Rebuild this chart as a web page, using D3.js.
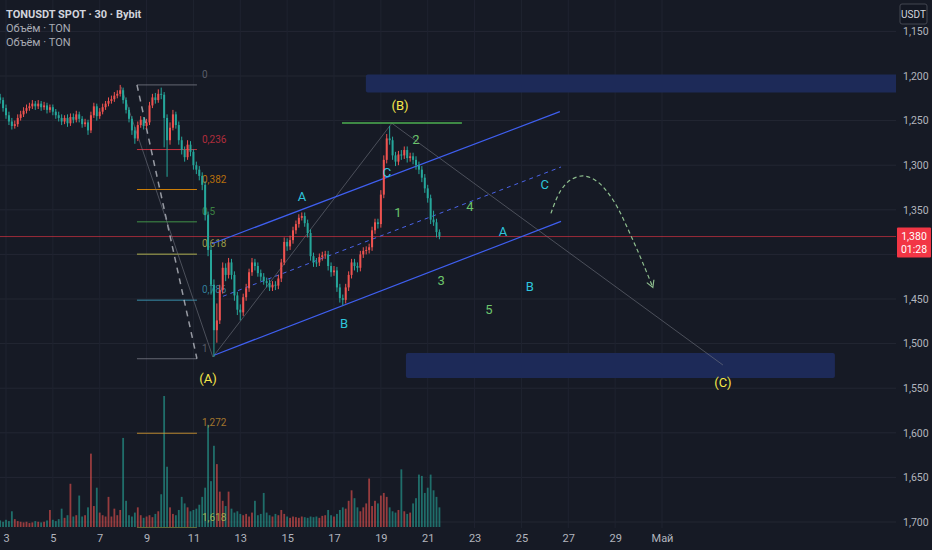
<!DOCTYPE html>
<html>
<head>
<meta charset="utf-8">
<script src="https://cdn.jsdelivr.net/npm/d3@7"></script>
<style>
html, body { margin: 0; padding: 0; background: #161a25; overflow: hidden; }
svg { display: block; }
text { font-family: Roboto, "Noto Sans", sans-serif; }
</style>
</head>
<body>
<div id="chart"></div>
<script>
// ---- data ----
// 3-hour candles starting Apr 2 18:00; open = previous close
const firstOpen = 1.224;
const closes = [1.227,1.236,1.244,1.251,1.256,1.254,1.247,1.243,1.239,1.236,
  1.234,1.231,1.234,1.231,1.235,1.233,1.238,1.235,1.240,1.244,
  1.247,1.251,1.247,1.253,1.246,1.249,1.243,1.248,1.254,1.252,
  1.261,1.244,1.234,1.245,1.240,1.235,1.231,1.228,1.226,1.222,
  1.220,1.216,1.227,1.238,1.248,1.261,1.270,1.255,1.249,1.256,
  1.252,1.233,1.224,1.227,1.220,1.221,1.247,1.272,1.258,1.243,
  1.255,1.272,1.283,1.291,1.277,1.285,1.300,1.305,1.312,1.322,
  1.356,1.395,1.434,1.485,1.474,1.440,1.415,1.423,1.409,1.423,
  1.446,1.462,1.465,1.448,1.438,1.420,1.409,1.413,1.421,1.425,
  1.430,1.432,1.437,1.434,1.435,1.427,1.409,1.386,1.391,1.384,
  1.373,1.366,1.359,1.357,1.365,1.376,1.402,1.409,1.409,1.403,
  1.401,1.400,1.413,1.420,1.418,1.437,1.449,1.451,1.437,1.423,
  1.409,1.413,1.415,1.400,1.396,1.395,1.392,1.373,1.364,1.366,
  1.333,1.294,1.270,1.272,1.289,1.296,1.288,1.289,1.283,1.292,
  1.290,1.294,1.300,1.305,1.314,1.326,1.337,1.361,1.364,1.375,
  1.380];
const highs = [1.231,1.240,1.248,1.255,1.260,1.259,1.257,1.250,1.246,1.242,
  1.239,1.237,1.238,1.237,1.239,1.238,1.242,1.241,1.244,1.248,
  1.251,1.255,1.254,1.257,1.256,1.253,1.252,1.252,1.258,1.257,
  1.266,1.264,1.247,1.250,1.248,1.243,1.238,1.234,1.231,1.229,
  1.225,1.223,1.231,1.242,1.252,1.266,1.276,1.273,1.258,1.260,
  1.259,1.255,1.236,1.231,1.230,1.226,1.280,1.313,1.277,1.261,
  1.259,1.277,1.288,1.296,1.294,1.290,1.305,1.310,1.317,1.328,
  1.362,1.402,1.445,1.515,1.499,1.478,1.444,1.430,1.427,1.428,
  1.452,1.468,1.474,1.469,1.452,1.442,1.424,1.418,1.425,1.430,
  1.434,1.437,1.441,1.441,1.440,1.439,1.431,1.412,1.396,1.395,
  1.388,1.377,1.370,1.362,1.369,1.381,1.407,1.414,1.414,1.413,
  1.407,1.405,1.418,1.425,1.424,1.442,1.454,1.457,1.455,1.441,
  1.427,1.418,1.420,1.419,1.404,1.400,1.399,1.396,1.377,1.371,
  1.370,1.337,1.298,1.277,1.294,1.301,1.300,1.294,1.293,1.297,
  1.296,1.299,1.305,1.310,1.319,1.331,1.342,1.366,1.368,1.381,
  1.383];
const lows = [1.220,1.224,1.232,1.240,1.247,1.250,1.243,1.239,1.235,1.232,
  1.230,1.227,1.228,1.227,1.228,1.229,1.230,1.232,1.232,1.237,
  1.240,1.243,1.244,1.243,1.242,1.242,1.239,1.240,1.245,1.248,
  1.249,1.240,1.230,1.231,1.236,1.231,1.228,1.224,1.222,1.218,
  1.216,1.210,1.213,1.224,1.235,1.245,1.257,1.251,1.245,1.246,
  1.248,1.229,1.220,1.219,1.215,1.213,1.218,1.243,1.252,1.238,
  1.240,1.251,1.268,1.279,1.272,1.273,1.282,1.296,1.301,1.308,
  1.318,1.352,1.390,1.428,1.455,1.434,1.409,1.410,1.404,1.405,
  1.419,1.442,1.456,1.444,1.433,1.416,1.404,1.405,1.409,1.417,
  1.421,1.426,1.428,1.430,1.430,1.423,1.405,1.381,1.382,1.379,
  1.369,1.362,1.355,1.353,1.353,1.361,1.372,1.398,1.404,1.399,
  1.397,1.396,1.396,1.409,1.413,1.414,1.433,1.445,1.433,1.419,
  1.405,1.405,1.409,1.396,1.392,1.391,1.388,1.369,1.360,1.360,
  1.328,1.289,1.265,1.256,1.268,1.285,1.284,1.283,1.279,1.279,
  1.286,1.286,1.290,1.296,1.301,1.310,1.322,1.333,1.351,1.360,
  1.372];
const volumes = [50,40,55,45,120,60,45,40,35,40,
  30,35,45,40,35,40,50,130,55,45,
  60,140,70,90,330,80,90,240,80,90,
  150,560,160,300,110,90,80,230,80,140,
  90,130,680,200,90,80,110,150,90,70,
  80,90,75,100,120,250,1000,460,150,100,
  90,130,230,180,150,120,130,140,170,230,
  300,780,350,620,480,270,200,160,270,140,
  110,120,100,90,100,80,110,200,90,100,
  260,110,90,80,100,90,130,100,80,70,
  80,75,70,80,75,70,80,75,80,70,
  85,90,130,90,80,100,130,150,140,200,
  280,220,150,120,150,180,370,160,200,180,
  240,260,230,150,120,110,130,440,120,100,
  110,180,220,400,390,260,300,400,280,230,
  150];

const priceTicks = [1.15,1.20,1.25,1.30,1.35,1.40,1.45,1.50,1.55,1.60,1.65,1.70];
const hiddenTick = 1.40; // sits under the last-price label
const dateTickDays = [3,5,7,9,11,13,15,17,19,21,23,25,27,29,31]; // 31 = 1 May
const lastPrice = 1.380;
const countdown = "01:28";

// fibonacci retracement (anchors in April-day units)
const fibDays = [8.59, 11.15];
const fibPrices = [1.210, 1.517];
const fibRatios = [0, 0.236, 0.382, 0.5, 0.618, 0.786, 1, 1.272, 1.618];
const fibColors = ["#787b86","#f23645","#ff9800","#4caf50","#d4d45a","#3fa9c9","#787b86","#e0a030","#c8d850"];

// channel and wave lines: [day1, price1, day2, price2]
const channelUpper = [11.79, 1.388, 26.64, 1.240];
const channelLower = [11.88, 1.513, 26.69, 1.363];
const channelMid   = [12.26, 1.447, 26.69, 1.302];
const waveLines = [
  [7.91, 1.212, 11.83, 1.515],
  [11.83, 1.515, 19.47, 1.253],
  [19.47, 1.253, 33.60, 1.524]
];
const peakLine = [17.34, 1.2528, 22.46, 1.2528];

// zones: [dayStart, dayEnd, price1, price2]
const zones = [
  [18.36, 45.0, 1.1983, 1.2185],
  [20.07, 38.38, 1.5105, 1.5385]
];

// projected path
const arrowDays = [26.26, 26.64, 27.07, 27.63, 28.22, 28.91, 29.76, 30.61];
const arrowPrices = [1.354, 1.330, 1.317, 1.312, 1.318, 1.339, 1.384, 1.437];

// wave labels
const waveText  = ["(A)","(B)","(C)","A","B","C","1","2","3","4","5","A","B","C"];
const waveDays  = [11.62, 19.82, 33.60, 15.63, 17.43, 19.26, 19.73, 20.50, 21.57, 22.80, 23.61, 24.21, 25.36, 26.00];
const wavePrices= [1.5386, 1.2325, 1.5430, 1.3345, 1.4769, 1.3076, 1.3525, 1.2706, 1.4287, 1.3457, 1.4612, 1.3738, 1.4354, 1.3211];
const waveKind  = ["major","major","major","minor","minor","minor","sub","sub","sub","sub","sub","minor","minor","minor"];

// ---- layout ----
const W = 932, H = 550, paneR = 896, paneB = 528;
const dayToDate = d => new Date(new Date(2025, 3, 1).getTime() + (d - 1) * 864e5);
const startTime = new Date(2025, 3, 2, 18);

const x = d3.scaleTime().domain([new Date(2025, 3, 3), new Date(2025, 4, 1)]).range([6, 662]);
const y = d3.scaleLinear().domain([1.15, 1.70]).range([31.4, 522]);
const v = d3.scaleLinear().domain([0, 1000]).range([527, 396]);

const ru = d3.formatLocale({decimal: ",", thousands: "\u00a0", grouping: [3], currency: ["", ""]});
const fmt = ru.format(".3f");

const candles = closes.map((c, i) => ({
  t: new Date(startTime.getTime() + i * 3 * 3600e3),
  o: i ? closes[i - 1] : firstOpen,
  c: c, h: highs[i], l: lows[i], vol: volumes[i]
}));

const svg = d3.select("#chart").append("svg")
  .attr("width", W).attr("height", H)
  .attr("viewBox", `0 0 ${W} ${H}`);

svg.append("rect").attr("width", W).attr("height", H).attr("fill", "#161a25");

svg.append("defs").append("clipPath").attr("id", "pane")
  .append("rect").attr("x", 0).attr("y", 0).attr("width", paneR).attr("height", paneB);

svg.select("defs").append("marker")
  .attr("id", "arrow").attr("viewBox", "0 0 10 10")
  .attr("refX", 8).attr("refY", 5)
  .attr("markerWidth", 8).attr("markerHeight", 8)
  .attr("orient", "auto-start-reverse")
  .append("path").attr("d", "M1,1 L8,5 L1,9")
  .attr("fill", "none").attr("stroke", "#8fbf8f").attr("stroke-width", 1.2);

const pane = svg.append("g").attr("clip-path", "url(#pane)");

// grid
pane.append("g").selectAll("line").data(priceTicks).join("line")
  .attr("x1", 0).attr("x2", paneR)
  .attr("y1", d => y(d)).attr("y2", d => y(d))
  .attr("stroke", "#232733").attr("stroke-width", 1);

pane.append("g").selectAll("line").data(dateTickDays).join("line")
  .attr("x1", d => x(dayToDate(d))).attr("x2", d => x(dayToDate(d)))
  .attr("y1", 0).attr("y2", paneB)
  .attr("stroke", "#1f2330").attr("stroke-width", 1);

// zones
pane.append("g").selectAll("rect").data(zones).join("rect")
  .attr("x", d => x(dayToDate(d[0])))
  .attr("width", d => x(dayToDate(d[1])) - x(dayToDate(d[0])))
  .attr("y", d => y(d[2]))
  .attr("height", d => y(d[3]) - y(d[2]))
  .attr("rx", 2)
  .attr("fill", "#1d2a58");

// current price line
pane.append("line")
  .attr("x1", 0).attr("x2", paneR)
  .attr("y1", y(lastPrice)).attr("y2", y(lastPrice))
  .attr("stroke", "rgba(242,54,69,0.6)").attr("stroke-width", 1);

// volume
pane.append("g").selectAll("rect").data(candles).join("rect")
  .attr("x", d => x(d.t) - 0.9)
  .attr("width", 1.8)
  .attr("y", d => v(d.vol))
  .attr("height", d => v(0) - v(d.vol))
  .attr("fill", d => d.c >= d.o ? "rgba(38,166,154,0.6)" : "rgba(239,83,80,0.6)");

// fibonacci
const fibX1 = x(dayToDate(fibDays[0])), fibX2 = x(dayToDate(fibDays[1]));
const fibLevel = r => fibPrices[0] + r * (fibPrices[1] - fibPrices[0]);
const fib = pane.append("g");
fib.selectAll("line").data(fibRatios).join("line")
  .attr("x1", fibX1).attr("x2", fibX2)
  .attr("y1", d => y(fibLevel(d))).attr("y2", d => y(fibLevel(d)))
  .attr("stroke", (d, i) => fibColors[i]).attr("stroke-opacity", 0.8).attr("stroke-width", 1);
fib.selectAll("text").data(fibRatios).join("text")
  .attr("x", fibX2 + 5).attr("y", d => y(fibLevel(d)) - 7)
  .attr("fill", (d, i) => fibColors[i]).attr("fill-opacity", 0.7)
  .attr("font-size", 10)
  .text(d => String(d).replace(".", ","));
pane.append("line")
  .attr("x1", fibX1).attr("y1", y(fibPrices[0]))
  .attr("x2", fibX2).attr("y2", y(fibPrices[1]))
  .attr("stroke", "#c3c6ce").attr("stroke-opacity", 0.75)
  .attr("stroke-width", 1.5).attr("stroke-dasharray", "6,5");

// wave connector lines
pane.append("g").selectAll("line").data(waveLines).join("line")
  .attr("x1", d => x(dayToDate(d[0]))).attr("y1", d => y(d[1]))
  .attr("x2", d => x(dayToDate(d[2]))).attr("y2", d => y(d[3]))
  .attr("stroke", "#787b86").attr("stroke-opacity", 0.55).attr("stroke-width", 1);

// channel
const seg = (g, d) => g.append("line")
  .attr("x1", x(dayToDate(d[0]))).attr("y1", y(d[1]))
  .attr("x2", x(dayToDate(d[2]))).attr("y2", y(d[3]));
seg(pane, channelUpper).attr("stroke", "#3f5ff0").attr("stroke-width", 1.2);
seg(pane, channelLower).attr("stroke", "#3f5ff0").attr("stroke-width", 1.2);
seg(pane, channelMid).attr("stroke", "#4a63e8").attr("stroke-width", 1).attr("stroke-dasharray", "4,4");
seg(pane, peakLine).attr("stroke", "#4caf50").attr("stroke-width", 1.5);

// candles
const cg = pane.append("g");
cg.selectAll("line").data(candles).join("line")
  .attr("x1", d => x(d.t)).attr("x2", d => x(d.t))
  .attr("y1", d => y(d.l)).attr("y2", d => y(d.h))
  .attr("stroke", d => d.c >= d.o ? "#26a69a" : "#ef5350").attr("stroke-width", 1);
cg.selectAll("rect").data(candles).join("rect")
  .attr("x", d => x(d.t) - 1)
  .attr("width", 2)
  .attr("y", d => Math.min(y(d.o), y(d.c)))
  .attr("height", d => Math.max(1, Math.abs(y(d.o) - y(d.c))))
  .attr("fill", d => d.c >= d.o ? "#26a69a" : "#ef5350");

// projected path
pane.append("path")
  .datum(arrowDays.map((d, i) => [d, arrowPrices[i]]))
  .attr("d", d3.line().x(d => x(dayToDate(d[0]))).y(d => y(d[1])).curve(d3.curveCatmullRom))
  .attr("fill", "none").attr("stroke", "#8fbf8f").attr("stroke-width", 1.2)
  .attr("stroke-dasharray", "4,3").attr("marker-end", "url(#arrow)");

// wave labels
const waveColor = {major: "#f5e74a", minor: "#2ec4dc", sub: "#6cc46c"};
pane.append("g").selectAll("text").data(waveText).join("text")
  .attr("x", (d, i) => x(dayToDate(waveDays[i])))
  .attr("y", (d, i) => y(wavePrices[i]))
  .attr("dy", "0.36em")
  .attr("text-anchor", "middle")
  .attr("font-size", 13)
  .attr("fill", (d, i) => waveColor[waveKind[i]])
  .text(d => d);

// ---- axes ----
const yAxis = d3.axisRight(y)
  .tickValues(priceTicks.filter(d => d !== hiddenTick))
  .tickSize(0).tickPadding(6).tickFormat(fmt);
const ya = svg.append("g").attr("transform", `translate(${paneR + 1},0)`).call(yAxis);
ya.select(".domain").remove();
ya.selectAll("text").attr("fill", "#b2b5be").attr("font-size", 10.5);

const xAxis = d3.axisBottom(x)
  .tickValues(dateTickDays.map(dayToDate))
  .tickSize(0).tickPadding(6)
  .tickFormat(d => d.getMonth() === 4 ? "Май" : d.getDate());
const xa = svg.append("g").attr("transform", `translate(0,${paneB})`).call(xAxis);
xa.select(".domain").remove();
xa.selectAll("text").attr("fill", "#b2b5be").attr("font-size", 11);

// last price label
const pl = svg.append("g").attr("transform", `translate(897,${y(lastPrice) - 9})`);
pl.append("rect").attr("width", 34).attr("height", 30).attr("rx", 1).attr("fill", "#f23645");
pl.append("text").attr("x", 17).attr("y", 12).attr("text-anchor", "middle")
  .attr("fill", "#fff").attr("font-size", 10.5).text(fmt(lastPrice));
pl.append("text").attr("x", 17).attr("y", 25).attr("text-anchor", "middle")
  .attr("fill", "#fff").attr("font-size", 10.5).text(countdown);

// currency box
const cb = svg.append("g").attr("transform", "translate(900,4)");
cb.append("rect").attr("width", 27).attr("height", 20).attr("rx", 2)
  .attr("fill", "#131722").attr("stroke", "#434651");
cb.append("text").attr("x", 13.5).attr("y", 14).attr("text-anchor", "middle")
  .attr("fill", "#d1d4dc").attr("font-size", 10).text("USDT");

// legend
const legend = ["TONUSDT SPOT · 30 · Bybit", "Объём · TON", "Объём · TON"];
svg.append("g").selectAll("text").data(legend).join("text")
  .attr("x", 6).attr("y", (d, i) => 18 + i * 14)
  .attr("font-size", 11)
  .attr("font-weight", (d, i) => i === 0 ? "bold" : "normal")
  .attr("fill", (d, i) => i === 0 ? "#d1d4dc" : "#a8abb4")
  .text(d => d);
</script>
</body>
</html>
